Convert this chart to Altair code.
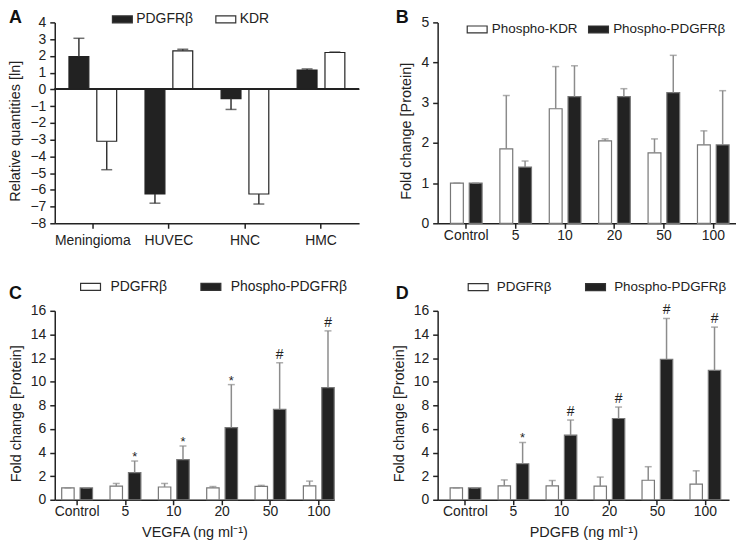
import altair as alt
import pandas as pd

FONT = "Liberation Sans"
INK = "#222222"
GREY = "#8c8c8c"

# ---------------- data ----------------
A_cats = ["Meningioma", "HUVEC", "HNC", "HMC"]
A_series = ["PDGFRβ", "KDR"]
A_pdgfr = [1.95, -6.25, -0.55, 1.15]
A_pdgfr_err = [3.05, -6.8, -1.2, 1.22]
A_kdr = [-3.1, 2.3, -6.25, 2.2]
A_kdr_err = [-4.8, 2.4, -6.85, 2.23]

dose_cats = ["Control", "5", "10", "20", "50", "100"]

B_series = ["Phospho-KDR", "Phospho-PDGFRβ"]
B_kdr = [1.0, 1.85, 2.85, 2.05, 1.75, 1.95]
B_kdr_err = [1.0, 3.18, 3.9, 2.1, 2.1, 2.3]
B_pdgfr = [1.0, 1.4, 3.15, 3.15, 3.25, 1.95]
B_pdgfr_err = [1.0, 1.55, 3.92, 3.35, 4.18, 3.3]

CD_series = ["PDGFRβ", "Phospho-PDGFRβ"]
C_total = [1.0, 1.15, 1.08, 1.0, 1.13, 1.18]
C_total_err = [1.0, 1.38, 1.38, 1.12, 1.22, 1.58]
C_phos = [1.0, 2.3, 3.4, 6.1, 7.65, 9.5]
C_phos_err = [1.0, 3.28, 4.55, 9.75, 11.6, 14.3]
C_marks = ["", "*", "*", "*", "#", "#"]

D_total = [1.0, 1.18, 1.17, 1.15, 1.65, 1.33]
D_total_err = [1.0, 1.68, 1.63, 1.92, 2.8, 2.45]
D_phos = [1.0, 3.05, 5.47, 6.88, 11.9, 10.95]
D_phos_err = [1.0, 4.85, 6.75, 7.85, 15.35, 14.62]
D_marks = ["", "*", "#", "#", "#", "#"]


def long_df(cats, names, vals, errs):
    rows = []
    for name, v, e in zip(names, vals, errs):
        for c, vv, ee in zip(cats, v, e):
            rows.append({"cat": c, "series": name, "value": vv, "err": ee})
    return pd.DataFrame(rows)


def marks_df(cats, name, errs, marks):
    return pd.DataFrame([{"cat": c, "series": name, "err": e, "mark": m}
                         for c, e, m in zip(cats, errs, marks) if m])


def panel(df, cats, names, colors, ydom, yticks, width, height, xsc, xosc,
          legend, letter, letter_xy, bar_stroke, err_color, cap, ytitle,
          xtitle=None, label_pad=0, zero_line=False, ann=None):
    def X():
        return alt.X("cat:N", sort=cats, scale=alt.Scale(**xsc),
                     axis=alt.Axis(title=xtitle, labelAngle=0, labelPadding=label_pad,
                                   titlePadding=7, titleFontSize=14.5,
                                   labelOverlap=False))

    def XO():
        return alt.XOffset("series:N", sort=names, scale=alt.Scale(**xosc))

    def yscale():
        return alt.Scale(domain=ydom, nice=False, zero=False)

    def yaxis():
        return alt.Axis(values=yticks, title=ytitle, titleY=height / 2 + 8,
                        titlePadding=7, titleFontSize=14.5, labelPadding=4,
                        labelOverlap=False)

    def Y(field):
        return alt.Y(field, scale=yscale(), axis=yaxis())

    base = alt.Chart(df)
    layers = []
    bars = base.mark_bar(stroke=bar_stroke, strokeWidth=1.2).encode(
        x=X(), xOffset=XO(), y=Y("value:Q"),
        color=alt.Color("series:N", sort=names,
                        scale=alt.Scale(domain=names, range=colors), legend=legend))
    layers.append(bars)
    rules = base.mark_rule(color=err_color, strokeWidth=1.5).encode(
        x=X(), xOffset=XO(), y=Y("value:Q"), y2="err:Q")
    caps = base.mark_tick(color=err_color, thickness=1.5, size=cap, orient="horizontal").encode(
        x=X(), xOffset=XO(), y=Y("err:Q"))
    layers += [rules, caps]
    if zero_line:
        layers.append(alt.Chart(df).mark_rule(color=INK, strokeWidth=1.5).encode(
            y=alt.YDatum(0, scale=yscale(), axis=yaxis())))
    if ann is not None:
        star = ann[ann["mark"] == "*"]
        hsh = ann[ann["mark"] == "#"]
        if len(star):
            layers.append(alt.Chart(star).mark_text(fontSize=13, color=INK, dy=0,
                                                    baseline="alphabetic").encode(
                x=X(), xOffset=XO(), y=Y("err:Q"), text="mark:N"))
        if len(hsh):
            layers.append(alt.Chart(hsh).mark_text(fontSize=14, color=INK, dy=-4,
                                                   baseline="alphabetic").encode(
                x=X(), xOffset=XO(), y=Y("err:Q"), text="mark:N"))
    lab = alt.Chart(pd.DataFrame({"t": [letter]})).mark_text(
        fontSize=18, fontWeight="bold", color="#111", align="left",
        baseline="top").encode(text="t:N", x=alt.value(letter_xy[0]),
                               y=alt.value(letter_xy[1]))
    layers.append(lab)
    return alt.layer(*layers).properties(width=width, height=height)


def make_legend(x, y, label_offset, col_pad, fs=14):
    # symbol nominal size 10px; drawn rectangle is 20 x 7 px
    return alt.Legend(orient="none", legendX=x, legendY=y, direction="horizontal",
                      title=None, symbolType="M-2,-0.7H2V0.7H-2Z", symbolSize=100,
                      symbolStrokeColor="#333", symbolStrokeWidth=1.2, symbolOpacity=1,
                      labelFontSize=fs, labelColor=INK, labelOffset=label_offset,
                      columnPadding=col_pad, padding=0)


dfA = long_df(A_cats, A_series, [A_pdgfr, A_kdr], [A_pdgfr_err, A_kdr_err])
dfB = long_df(dose_cats, B_series, [B_kdr, B_pdgfr], [B_kdr_err, B_pdgfr_err])
dfC = long_df(dose_cats, CD_series, [C_total, C_phos], [C_total_err, C_phos_err])
dfD = long_df(dose_cats, CD_series, [D_total, D_phos], [D_total_err, D_phos_err])

pA = panel(dfA, A_cats, A_series, [INK, "white"], [-8, 4], list(range(-8, 5)),
           306, 202, dict(paddingInner=0.373, paddingOuter=0.187),
           dict(paddingInner=0.286, paddingOuter=0),
           make_legend(61, -10, 7, 19), "A", (-46, -13), INK, "#333", 11,
           "Relative quantities [ln]", label_pad=5, zero_line=True)

pB = panel(dfB, dose_cats, B_series, ["white", INK], [0, 5], list(range(0, 6)),
           300, 202, dict(paddingInner=0.36, paddingOuter=0.2, align=0.65),
           dict(paddingInner=0.316, paddingOuter=0),
           make_legend(33, 0, 8, 8, 13.5), "B", (-42, -13), "#777", GREY, 7,
           "Fold change [Protein]")

pC = panel(dfC, dose_cats, CD_series, ["white", INK], [0, 16], list(range(0, 17, 2)),
           281, 190, dict(paddingInner=0.362, paddingOuter=0.072, align=1),
           dict(paddingInner=0.324, paddingOuter=0),
           make_legend(29, -31, 13, 30), "C", (-46, -26), "#777", GREY, 7,
           "Fold change [Protein]", xtitle="VEGFA (ng ml⁻¹)",
           ann=marks_df(dose_cats, CD_series[1], C_phos_err, C_marks))

pD = panel(dfD, dose_cats, CD_series, ["white", INK], [0, 16], list(range(0, 17, 2)),
           293, 190, dict(paddingInner=0.36, paddingOuter=0.217, align=0.6),
           dict(paddingInner=0.324, paddingOuter=0),
           make_legend(34, -31, 12, 31, 13.5), "D", (-42, -26), "#777", GREY, 7,
           "Fold change [Protein]", xtitle="PDGFB (ng ml⁻¹)",
           ann=marks_df(dose_cats, CD_series[1], D_phos_err, D_marks))

chart = alt.concat(pA, pB, pC, pD, columns=2,
                   spacing=alt.RowColnumber(row=88, column=79),
                   bounds="flush").resolve_scale(
    color="independent", x="independent", y="independent", xOffset="independent"
).resolve_legend(color="independent").properties(padding=0).configure(
    font=FONT
).configure_view(stroke=None).configure_axis(
    domainColor=INK, domainWidth=1.5, tickColor=INK, tickWidth=1.5, tickSize=5,
    labelFontSize=14, labelColor=INK, titleColor=INK, titleFontWeight="normal",
    grid=False, labelFont=FONT, titleFont=FONT
)

chart.save("out.html", embed_options={"renderer": "svg", "actions": False})
